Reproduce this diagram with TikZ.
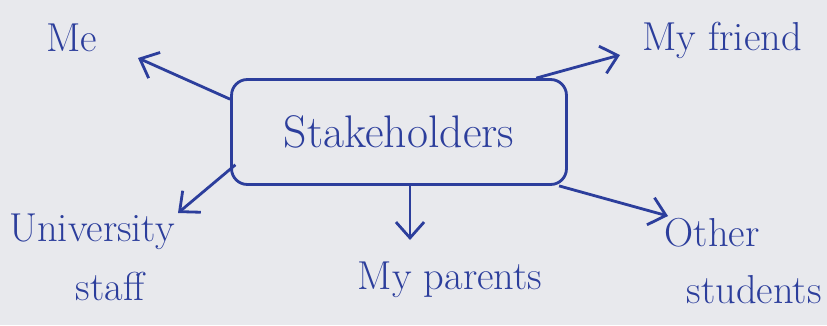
\documentclass[tikz,border=0pt]{standalone}
\usepackage{tikz}
\usetikzlibrary{arrows.meta}
\definecolor{ink}{HTML}{2C3E9C}
\definecolor{paper}{HTML}{E8E9ED}
\tikzset{
  stake/.style={draw=ink,line width=1.6pt,rounded corners=9pt,minimum width=6.7cm,minimum height=2.1cm,text=ink,font=\fontsize{26}{30}\selectfont},
  who/.style={text=ink,font=\fontsize{23}{26}\selectfont,inner sep=0pt},
  link/.style={draw=ink,line width=1.6pt,-{Straight Barb[length=9pt,width=16pt,line width=1.6pt]}}
}
\begin{document}
\begin{tikzpicture}[x=0.02cm,y=-0.02cm]
\fill[paper] (0,0) rectangle (827,325);
\useasboundingbox (0,0) rectangle (827,325);
% centre box
\node[stake] (sh) at (399,132) {Stakeholders};
% people round it
\node[who] (me) at (72,38) {Me};
\node[who] (friend) at (722,40) {My friend};
\node[who] (uni) at (92,232) {University};
\node[who] (staff) at (110,286) {staff};
\node[who] (parents) at (450,280) {My parents};
\node[who] (other) at (712,233) {Other};
\node[who,anchor=east] (students) at (822,290) {students};
% arrow tips
\coordinate (tme) at (138,58);
\coordinate (tfriend) at (620,55);
\coordinate (tuni) at (178,213);
\coordinate (tparents) at (410,240);
\coordinate (tother) at (668,216);
% arrows
\draw[link] ([yshift=-12pt]sh.north west) -- (tme);
\draw[link] ([xshift=-18pt]sh.north east) -- (tfriend);
\draw[link] ([xshift=3pt,yshift=12pt]sh.south west) -- (tuni);
\draw[link] (sh.south -| tparents) -- (tparents);
\draw[link] ([xshift=-5pt]sh.south east) -- (tother);
\end{tikzpicture}
\end{document}
